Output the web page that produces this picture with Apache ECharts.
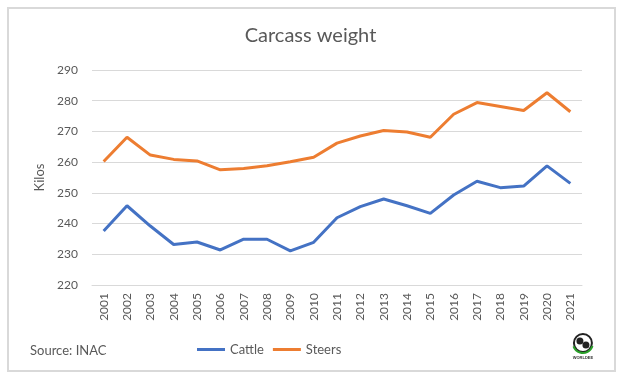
<!DOCTYPE html>
<html>
<head>
<meta charset="utf-8">
<script src="https://cdn.jsdelivr.net/npm/echarts@6/dist/echarts.min.js"></script>
<style>
html,body{margin:0;padding:0;background:#fff;}
#c{width:621px;height:378px;}
</style>
</head>
<body>
<div id="c"></div>
<script>
var years = ['2001','2002','2003','2004','2005','2006','2007','2008','2009','2010','2011','2012','2013','2014','2015','2016','2017','2018','2019','2020','2021'];
var cattle = [237.6,245.8,239.2,233.2,234.0,231.4,234.9,234.9,231.1,233.9,241.9,245.5,248.0,245.8,243.3,249.3,253.8,251.7,252.2,258.8,253.1];
var steers = [260.2,268.1,262.3,260.9,260.4,257.5,257.9,258.8,260.1,261.6,266.2,268.5,270.3,269.8,268.1,275.6,279.4,278.1,276.8,282.6,276.4];

var FONT = 'Lato, "Open Sans", sans-serif';
var chart = echarts.init(document.getElementById('c'));
chart.setOption({
  animation: false,
  backgroundColor: '#fff',
  textStyle: {fontFamily: FONT},
  title: {
    text: 'Carcass weight',
    left: 'center',
    top: 21,
    textStyle: {fontFamily: FONT, fontSize: 20, fontWeight: 'normal', color: '#595959'}
  },
  grid: {left: 92, right: 39, top: 70, bottom: 93},
  legend: {
    data: ['Cattle', 'Steers'],
    left: 192,
    top: 338,
    icon: 'rect',
    itemWidth: 28,
    itemHeight: 3,
    itemGap: 9,
    textStyle: {fontFamily: FONT, fontSize: 13, color: '#595959'}
  },
  xAxis: {
    type: 'category',
    data: years,
    boundaryGap: true,
    axisLine: {lineStyle: {color: '#d9d9d9', width: 1}},
    axisTick: {show: false},
    axisLabel: {rotate: 90, fontSize: 12, color: '#595959', margin: 8, fontFamily: FONT}
  },
  yAxis: {
    type: 'value',
    min: 220,
    max: 290,
    interval: 10,
    name: 'Kilos',
    nameLocation: 'middle',
    nameGap: 42,
    nameTextStyle: {fontSize: 13, color: '#595959', fontFamily: FONT},
    axisLine: {show: false},
    axisTick: {show: false},
    axisLabel: {fontSize: 12, color: '#595959', margin: 14, fontFamily: FONT},
    splitLine: {lineStyle: {color: '#d9d9d9', width: 1}}
  },
  series: [
    {name: 'Cattle', type: 'line', data: cattle, showSymbol: false, symbol: 'none',
     lineStyle: {color: '#4472C4', width: 3}, itemStyle: {color: '#4472C4'}},
    {name: 'Steers', type: 'line', data: steers, showSymbol: false, symbol: 'none',
     lineStyle: {color: '#ED7D31', width: 3}, itemStyle: {color: '#ED7D31'}}
  ],
  graphic: [
    {type: 'rect', shape: {x: 8, y: 8, width: 607, height: 363},
     style: {fill: 'none', stroke: '#d9d9d9', lineWidth: 2}, silent: true},
    {type: 'text', left: 30, top: 344,
     style: {text: 'Source: INAC', fontSize: 13, fill: '#595959', fontFamily: FONT}},
    {type: 'group', left: 571, top: 333, children: [
      {type: 'circle', shape: {cx: 11, cy: 11, r: 9}, style: {fill: '#fff', stroke: '#222', lineWidth: 2}},
      {type: 'circle', shape: {cx: 8, cy: 9, r: 3.5}, style: {fill: '#222'}},
      {type: 'circle', shape: {cx: 14, cy: 13, r: 3.5}, style: {fill: '#222'}},
      {type: 'arc', shape: {cx: 11, cy: 11, r: 10, startAngle: 0.3, endAngle: 2.8}, style: {stroke: '#2aa02a', lineWidth: 2, fill: 'none'}},
      {type: 'text', style: {text: 'WORLDEE', x: 11, y: 24, fontSize: 4, fontWeight: 'bold', fill: '#333', align: 'center'}}
    ]}
  ]
});
</script>
</body>
</html>
